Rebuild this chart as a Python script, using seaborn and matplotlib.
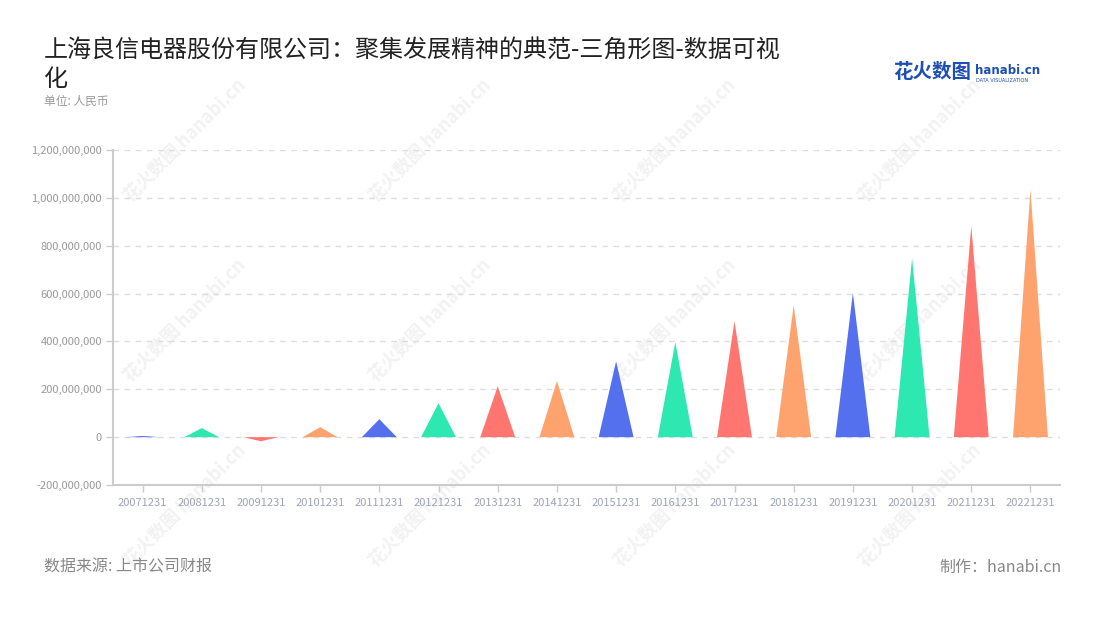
import matplotlib
matplotlib.use("Agg")
import matplotlib.pyplot as plt
from matplotlib.patches import Polygon
from matplotlib.ticker import FuncFormatter, MultipleLocator
import seaborn as sns
import pandas as pd

# ---- data ----
periods = ["20071231", "20081231", "20091231", "20101231", "20111231", "20121231",
           "20131231", "20141231", "20151231", "20161231", "20171231", "20181231",
           "20191231", "20201231", "20211231", "20221231"]
values = [5e6, 38e6, -17e6, 42e6, 75e6, 142e6, 213e6, 235e6, 317e6, 397e6,
          485e6, 551e6, 603e6, 748e6, 882e6, 1035e6]
palette = ["#5470ee", "#2de8b0", "#ff7670", "#ffa36e"]

title = "上海良信电器股份有限公司：聚集发展精神的典范-三角形图-数据可视\n化"
unit_label = "单位: 人民币"
source_label = "数据来源: 上市公司财报"
maker_label = "制作：hanabi.cn"

sns.set_theme(style="white")
plt.rcParams["font.family"] = ["Noto Sans CJK SC", "DejaVu Sans"]

df = pd.DataFrame({"period": periods, "value": values})
colors = [palette[i % len(palette)] for i in range(len(periods))]

fig = plt.figure(figsize=(11, 6.2), dpi=100)
ax = fig.add_axes([0.1027, 0.2177, 0.861, 0.5403])
ax.patch.set_alpha(0)

sns.barplot(data=df, x="period", y="value", hue="period", palette=colors,
            legend=False, width=0.59, ax=ax, saturation=1)

# turn bars into triangles using the bar geometry from seaborn's scales
for patch, col in zip(list(ax.patches), colors):
    x0 = patch.get_x()
    w = patch.get_width()
    h = patch.get_height()
    y0 = patch.get_y()
    tri = Polygon([[x0, y0], [x0 + w / 2, y0 + h], [x0 + w, y0]], closed=True,
                  facecolor=col, edgecolor="none", zorder=3)
    patch.set_visible(False)
    ax.add_patch(tri)

ax.set_ylim(-200e6, 1200e6)
ax.set_xlim(-0.5, len(periods) - 0.5)
ax.yaxis.set_major_locator(MultipleLocator(200e6))
ax.yaxis.set_major_formatter(FuncFormatter(lambda v, p: f"{int(round(v)):,}"))
ax.grid(axis="y", color="#dddddd", linestyle=(0, (4, 4)), linewidth=1, zorder=0)
ax.set_axisbelow(True)
ax.set_xlabel("")
ax.set_ylabel("")

for s in ["top", "right"]:
    ax.spines[s].set_visible(False)
for s in ["left", "bottom"]:
    ax.spines[s].set_color("#cccccc")
    ax.spines[s].set_linewidth(1.5)

ax.tick_params(axis="y", which="major", length=5, width=1, color="#cccccc",
               labelsize=8, labelcolor="#999999", pad=3, left=True)
ax.tick_params(axis="x", which="major", length=5, width=1, color="#cccccc",
               labelsize=8, labelcolor="#a0a4b4", pad=4, bottom=True)

# faint watermarks (behind everything)
wm_x = [185, 430, 675, 920]
wm_y = [140, 320, 505]
for yy in wm_y:
    for xx in wm_x:
        fig.text(xx / 1100, 1 - yy / 620, "花火数图 hanabi.cn",
                 fontsize=13, color="#f2f2f2", rotation=45, ha="center",
                 va="center", zorder=-5, fontweight="bold")

# titles
fig.text(44 / 1100, 1 - 38 / 620, title, fontsize=17.3, color="#222222",
         ha="left", va="top", linespacing=1.1)
fig.text(44 / 1100, 1 - 101 / 620, unit_label, fontsize=8.5, color="#999999",
         ha="left", va="center")

# logo
fig.text(893 / 1100, 1 - 73 / 620, "花火数图", fontsize=14, color="#1e4fb5",
         fontweight="bold", ha="left", va="center")
fig.text(975 / 1100, 1 - 70 / 620, "hanabi.cn", fontsize=8.5, color="#1e4fb5",
         fontweight="bold", ha="left", va="center",
         family=["DejaVu Sans"])
fig.text(976 / 1100, 1 - 80 / 620, "DATA VISUALIZATION", fontsize=3.6,
         color="#1e4fb5", ha="left", va="center", family=["DejaVu Sans"])

# footer
fig.text(44 / 1100, 1 - 567 / 620, source_label, fontsize=11.5,
         color="#888888", ha="left", va="center")
fig.text(1062 / 1100, 1 - 567 / 620, maker_label, fontsize=11.5,
         color="#888888", ha="right", va="center")

fig.savefig("out.png", dpi=100, facecolor="white")
